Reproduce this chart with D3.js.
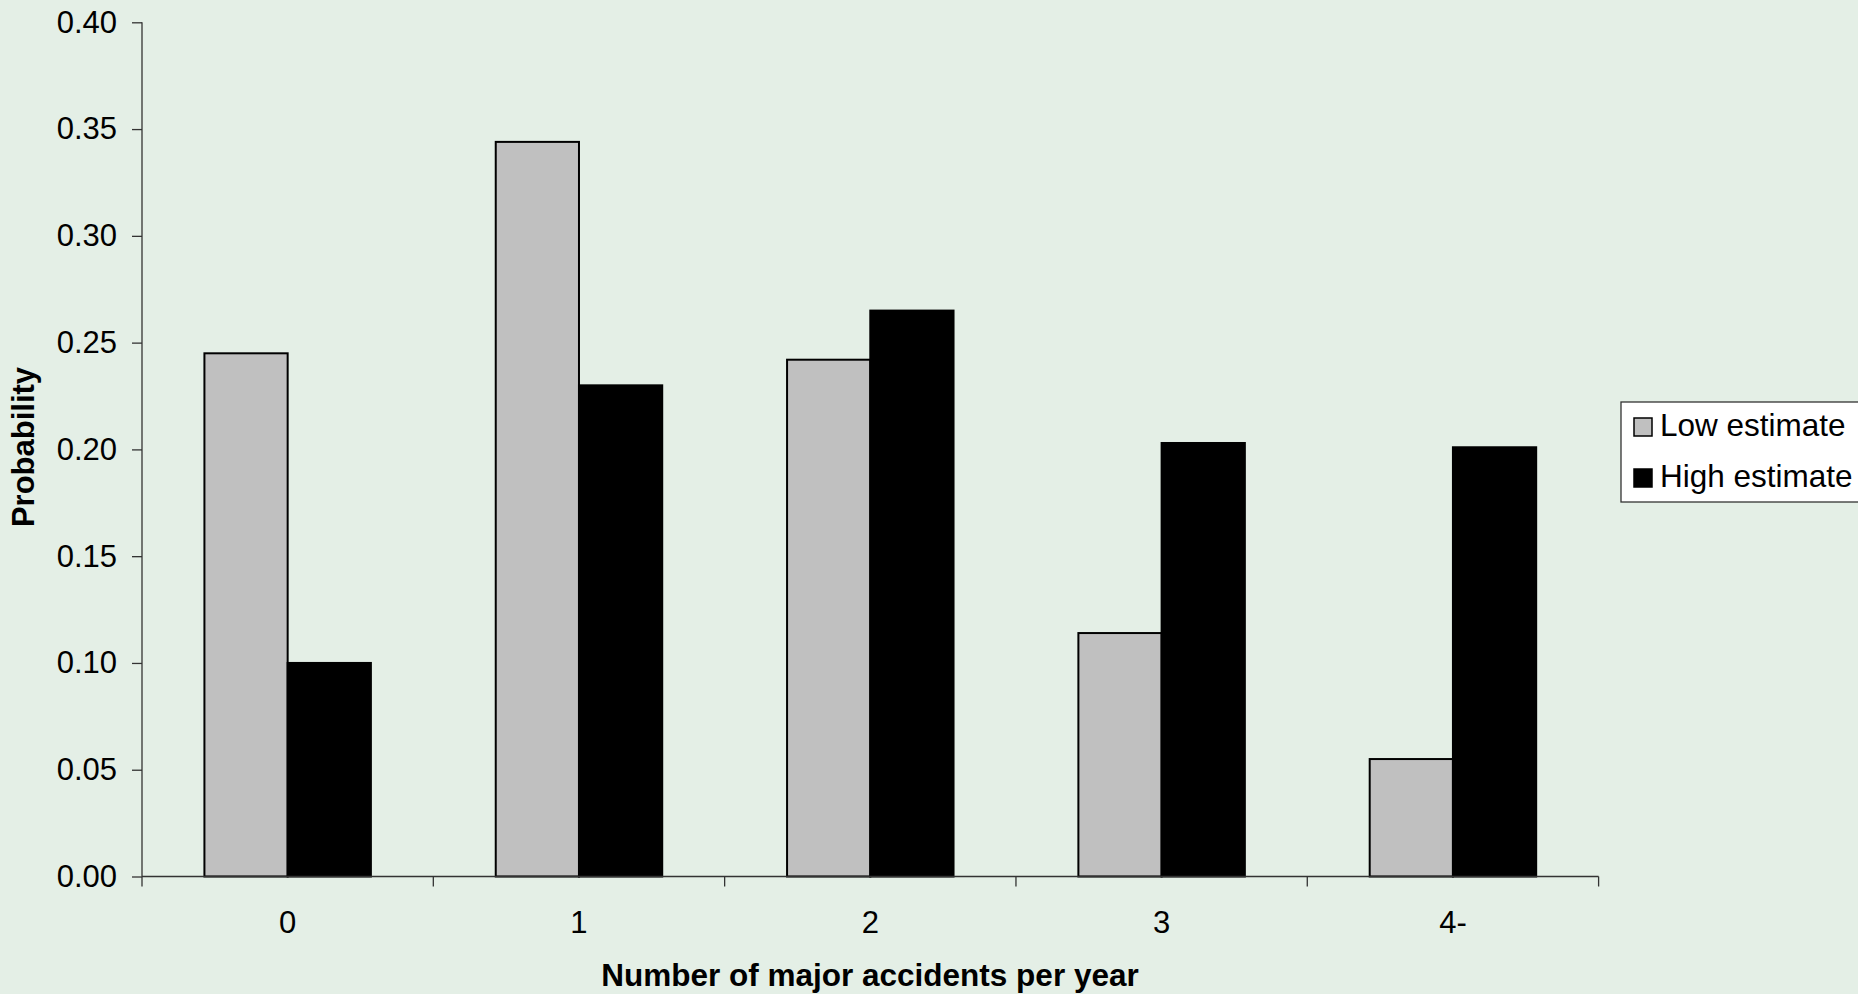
<!DOCTYPE html>
<html>
<head>
<meta charset="utf-8">
<script src="https://cdn.jsdelivr.net/npm/d3@7"></script>
<style>
  html, body { margin: 0; padding: 0; background: #E4EFE6; overflow: hidden; }
  svg { display: block; }
  text { font-family: "Liberation Sans", Arial, sans-serif; fill: #000; }
</style>
</head>
<body>
<svg id="chart" width="1858" height="994"></svg>
<script>
// Probability of major accidents per year, two estimates
const categories = ["0", "1", "2", "3", "4-"];
const seriesNames = ["Low estimate", "High estimate"];
const lowEstimate = [0.245, 0.344, 0.242, 0.114, 0.055];
const highEstimate = [0.100, 0.230, 0.265, 0.203, 0.201];
const yTicks = [0, 0.05, 0.10, 0.15, 0.20, 0.25, 0.30, 0.35, 0.40];

const seriesValues = [lowEstimate, highEstimate];
const seriesFill = ["#C0C0C0", "#000000"];

const svg = d3.select("#chart");
const plot = { left: 142, right: 1598.6, top: 22.3, bottom: 876.5 };

const x0 = d3.scaleBand().domain(categories).range([plot.left, plot.right]).paddingInner(0).paddingOuter(0);
// gap between groups equals 150% of a bar width
const x1 = d3.scaleBand().domain(seriesNames).range([0, x0.bandwidth()]).paddingInner(0).paddingOuter(0.75);
const y = d3.scaleLinear().domain([0, 0.40]).range([plot.bottom, plot.top]);

// bars
seriesNames.forEach((name, si) => {
  svg.append("g")
    .selectAll("rect")
    .data(categories.map((c, i) => ({ c, v: seriesValues[si][i] })))
    .join("rect")
    .attr("x", d => x0(d.c) + x1(name))
    .attr("y", d => y(d.v))
    .attr("width", x1.bandwidth())
    .attr("height", d => y(0) - y(d.v))
    .attr("fill", seriesFill[si])
    .attr("stroke", "#000")
    .attr("stroke-width", 2);
});

// y axis
const yAxis = d3.axisLeft(y).tickValues(yTicks).tickFormat(d3.format(".2f")).tickSize(10).tickPadding(15);
const gy = svg.append("g").attr("transform", `translate(${plot.left},0)`).call(yAxis);
gy.selectAll("text").style("font-size", "31px").style("font-family", "'Liberation Sans', Arial, sans-serif");
gy.selectAll("line, path").attr("stroke", "#333").attr("stroke-width", 1.3);
gy.select(".domain").attr("d", `M0,${plot.top}V${plot.bottom}`);

// x axis: baseline, boundary ticks between categories, centred labels
const gx = svg.append("g");
gx.append("line")
  .attr("x1", plot.left).attr("x2", plot.right)
  .attr("y1", y(0)).attr("y2", y(0))
  .attr("stroke", "#333").attr("stroke-width", 1.3);
const edges = categories.map(c => x0(c)).concat([x0(categories[categories.length - 1]) + x0.bandwidth()]);
gx.selectAll(".edge").data(edges).join("line")
  .attr("x1", d => d).attr("x2", d => d)
  .attr("y1", y(0)).attr("y2", y(0) + 10)
  .attr("stroke", "#333").attr("stroke-width", 1.3);
gx.selectAll(".lbl").data(categories).join("text")
  .attr("x", d => x0(d) + x0.bandwidth() / 2)
  .attr("y", 933)
  .attr("text-anchor", "middle")
  .style("font-size", "31px")
  .text(d => d);

// axis titles
svg.append("text")
  .attr("x", 870)
  .attr("y", 986)
  .attr("text-anchor", "middle")
  .style("font-size", "31.5px")
  .style("font-weight", "bold")
  .text("Number of major accidents per year");

svg.append("text")
  .attr("transform", "translate(33.5,447) rotate(-90)")
  .attr("text-anchor", "middle")
  .style("font-size", "31px")
  .style("font-weight", "bold")
  .text("Probability");

// legend
const legend = svg.append("g");
legend.append("rect")
  .attr("x", 1621).attr("y", 402)
  .attr("width", 260).attr("height", 100)
  .attr("fill", "#fff").attr("stroke", "#333").attr("stroke-width", 1.3);
seriesNames.forEach((name, i) => {
  const cy = 427 + i * 51;
  legend.append("rect")
    .attr("x", 1634).attr("y", cy - 9)
    .attr("width", 18).attr("height", 18)
    .attr("fill", seriesFill[i]).attr("stroke", "#000").attr("stroke-width", 1.5);
  legend.append("text")
    .attr("x", 1660).attr("y", cy + 9)
    .style("font-size", "31.5px")
    .text(name);
});
</script>
</body>
</html>
